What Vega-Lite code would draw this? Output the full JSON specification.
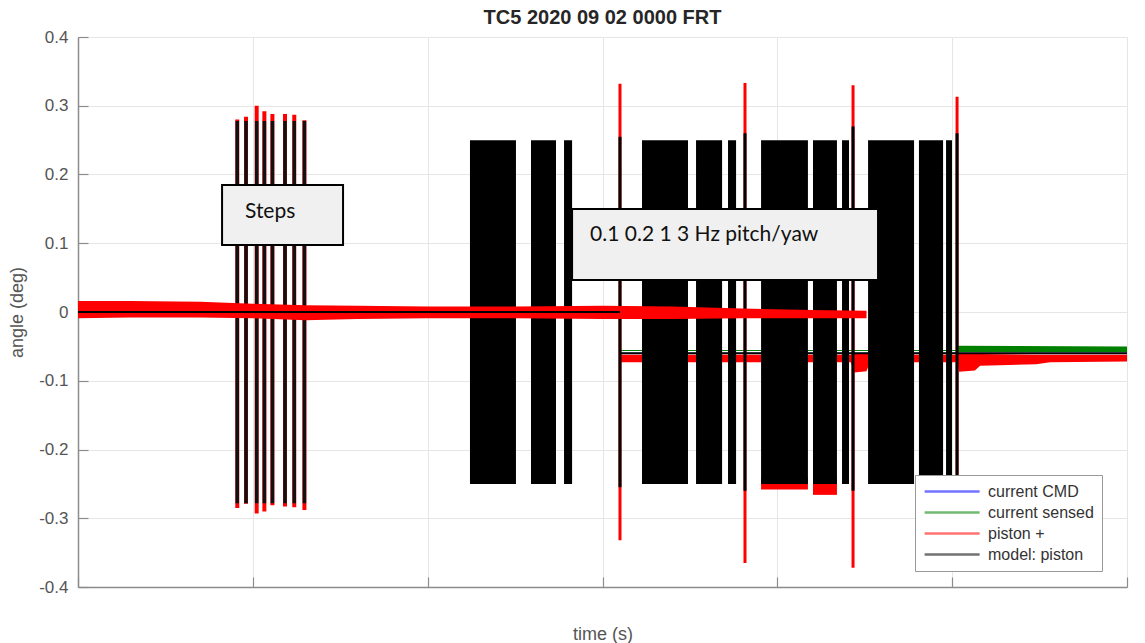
{
  "$schema": "https://vega.github.io/schema/vega-lite/v6.json",
  "width": 1049,
  "height": 550,
  "autosize": {"type": "none"},
  "padding": {"left": 78, "top": 37, "right": 18, "bottom": 56},
  "background": "white",
  "title": {"text": "TC5 2020 09 02 0000 FRT", "anchor": "middle", "fontSize": 20, "font": "Liberation Sans", "fontWeight": "bold", "color": "#262626", "offset": 0},
  "config": {
    "view": {"stroke": "#d9d9d9", "strokeWidth": 1}
  },
  "datasets": {
    "lines": [
      {"series": "current CMD", "seg": "a", "t": 0, "v": 0},
      {"series": "current CMD", "seg": "a", "t": 3100, "v": 0},
      {"series": "current CMD", "seg": "b", "t": 3100, "v": -0.06},
      {"series": "current CMD", "seg": "b", "t": 6000, "v": -0.06},
      {"series": "current sensed", "seg": "a", "t": 0, "v": 0.001},
      {"series": "current sensed", "seg": "a", "t": 3100, "v": 0.001},
      {"series": "current sensed", "seg": "b", "t": 3100, "v": -0.056},
      {"series": "current sensed", "seg": "b", "t": 6000, "v": -0.056}
    ],
    "model": [
      {"series": "model: piston", "seg": "a", "t": 0, "v": 0},
      {"series": "model: piston", "seg": "a", "t": 3100, "v": 0},
      {"series": "model: piston", "seg": "b", "t": 3100, "v": -0.06},
      {"series": "model: piston", "seg": "b", "t": 6000, "v": -0.06}
    ],
    "zeroBand": [
      {"t": 0, "lo": -0.009, "hi": 0.016},
      {"t": 300, "lo": -0.008, "hi": 0.016},
      {"t": 700, "lo": -0.008, "hi": 0.015},
      {"t": 1000, "lo": -0.009, "hi": 0.012},
      {"t": 1300, "lo": -0.012, "hi": 0.01},
      {"t": 1600, "lo": -0.01, "hi": 0.009},
      {"t": 2000, "lo": -0.009, "hi": 0.008},
      {"t": 2500, "lo": -0.009, "hi": 0.008},
      {"t": 3000, "lo": -0.01, "hi": 0.009},
      {"t": 3400, "lo": -0.01, "hi": 0.008},
      {"t": 3800, "lo": -0.009, "hi": 0.005},
      {"t": 4200, "lo": -0.009, "hi": 0.003},
      {"t": 4510, "lo": -0.009, "hi": 0.002}
    ],
    "lowBand": [
      {"t": 3100, "lo": -0.073, "hi": -0.062},
      {"t": 4420, "lo": -0.073, "hi": -0.062},
      {"t": 4440, "lo": -0.088, "hi": -0.06},
      {"t": 4510, "lo": -0.086, "hi": -0.06},
      {"t": 4530, "lo": -0.073, "hi": -0.062},
      {"t": 5030, "lo": -0.073, "hi": -0.062},
      {"t": 5040, "lo": -0.087, "hi": -0.06},
      {"t": 5130, "lo": -0.085, "hi": -0.06},
      {"t": 5160, "lo": -0.078, "hi": -0.061},
      {"t": 5480, "lo": -0.076, "hi": -0.062},
      {"t": 5560, "lo": -0.073, "hi": -0.062},
      {"t": 6000, "lo": -0.072, "hi": -0.062}
    ],
    "greenBand": [
      {"t": 5030, "lo": -0.058, "hi": -0.049},
      {"t": 6000, "lo": -0.058, "hi": -0.05}
    ],
    "blocks": [
      {"t": 2242, "t2": 2505, "lo": -0.25, "hi": 0.25},
      {"t": 2591, "t2": 2734, "lo": -0.25, "hi": 0.25},
      {"t": 2780, "t2": 2826, "lo": -0.25, "hi": 0.25},
      {"t": 3226, "t2": 3489, "lo": -0.25, "hi": 0.25},
      {"t": 3535, "t2": 3684, "lo": -0.25, "hi": 0.25},
      {"t": 3718, "t2": 3764, "lo": -0.25, "hi": 0.25},
      {"t": 3907, "t2": 4175, "lo": -0.25, "hi": 0.25},
      {"t": 4204, "t2": 4341, "lo": -0.25, "hi": 0.25},
      {"t": 4370, "t2": 4410, "lo": -0.25, "hi": 0.25},
      {"t": 4519, "t2": 4782, "lo": -0.25, "hi": 0.25},
      {"t": 4810, "t2": 4948, "lo": -0.25, "hi": 0.25},
      {"t": 4965, "t2": 4999, "lo": -0.25, "hi": 0.25}
    ],
    "redEdges": [
      {"t": 3907, "t2": 4175, "lo": -0.258, "hi": -0.24},
      {"t": 4204, "t2": 4341, "lo": -0.266, "hi": -0.24}
    ],
    "steps": [
      {"t": 911, "lo": -0.278, "hi": 0.278, "rlo": -0.285, "rhi": 0.28},
      {"t": 961, "lo": -0.278, "hi": 0.278, "rlo": -0.279, "rhi": 0.284},
      {"t": 1022, "lo": -0.278, "hi": 0.278, "rlo": -0.293, "rhi": 0.3},
      {"t": 1066, "lo": -0.278, "hi": 0.278, "rlo": -0.29, "rhi": 0.292},
      {"t": 1112, "lo": -0.278, "hi": 0.278, "rlo": -0.281, "rhi": 0.288},
      {"t": 1184, "lo": -0.278, "hi": 0.278, "rlo": -0.283, "rhi": 0.288},
      {"t": 1237, "lo": -0.278, "hi": 0.278, "rlo": -0.284, "rhi": 0.287},
      {"t": 1295, "lo": -0.278, "hi": 0.278, "rlo": -0.288, "rhi": 0.279}
    ],
    "spikes": [
      {"t": 3100, "lo": -0.255, "hi": 0.255, "rlo": -0.332, "rhi": 0.332},
      {"t": 3815, "lo": -0.26, "hi": 0.26, "rlo": -0.365, "rhi": 0.333},
      {"t": 4433, "lo": -0.26, "hi": 0.27, "rlo": -0.372, "rhi": 0.33},
      {"t": 5028, "lo": -0.25, "hi": 0.26, "rlo": -0.27, "rhi": 0.313}
    ],
    "boxes": [
      {"t": 824, "t2": 1516, "lo": 0.0975, "hi": 0.1847},
      {"t": 2826, "t2": 4576, "lo": 0.0465, "hi": 0.1498}
    ],
    "notes": [
      {"t": 955, "v": 0.1455, "text": "Steps"},
      {"t": 2929, "v": 0.112, "text": "0.1 0.2 1 3 Hz pitch/yaw"}
    ]
  },
  "layer": [
    {
      "data": {"name": "lines"},
      "mark": {"type": "line", "strokeWidth": 1},
      "encoding": {
        "x": {"field": "t", "type": "quantitative", "title": "time (s)", "scale": {"domain": [0, 6000], "nice": false, "zero": false},
          "axis": {"values": [0, 1000, 2000, 3000, 4000, 5000, 6000], "labels": false, "grid": true, "gridColor": "#e6e6e6", "domainColor": "#8c8c8c", "domainWidth": 1.5, "tickColor": "#8c8c8c", "tickSize": -10, "tickWidth": 1.2, "titleFont": "Liberation Sans", "titleFontSize": 18, "titleFontWeight": "normal", "titleColor": "#555555", "titleY": 52, "titleBaseline": "alphabetic"}},
        "y": {"field": "v", "type": "quantitative", "title": "angle (deg)", "scale": {"domain": [-0.4, 0.4], "nice": false, "zero": false},
          "axis": {"values": [-0.4, -0.3, -0.2, -0.1, 0, 0.1, 0.2, 0.3, 0.4], "labelExpr": "datum.value < 0 ? '-' + format(-datum.value, '.1~f') : format(datum.value, '.1~f')", "grid": true, "gridColor": "#e6e6e6", "domainColor": "#8c8c8c", "domainWidth": 1.5, "tickColor": "#8c8c8c", "tickSize": -10, "tickWidth": 1.2, "labelPadding": 20, "labelFont": "Liberation Sans", "labelFontSize": 17, "labelColor": "#555555", "titleFont": "Liberation Sans", "titleFontSize": 18, "titleFontWeight": "normal", "titleColor": "#555555", "titleX": -52, "titleY": 275, "titleAngle": 270, "titleBaseline": "bottom"}},
        "detail": {"field": "seg"},
        "color": {"field": "series", "type": "nominal",
          "scale": {"domain": ["current CMD", "current sensed", "piston +", "model: piston"], "range": ["#0000ff", "#008000", "#ff0000", "#000000"]},
          "legend": {"orient": "none", "legendX": 837, "legendY": 438, "title": null, "symbolType": "M-1,0H7", "symbolSize": 189, "symbolStrokeWidth": 2.5, "symbolOpacity": 0.55, "labelFontSize": 16, "labelFont": "Liberation Sans", "labelColor": "#333333", "labelOffset": 48, "rowPadding": 4, "padding": 8, "fillColor": "white", "strokeColor": "#999999", "cornerRadius": 0}}
      }
    },
    {
      "data": {"name": "greenBand"},
      "mark": {"type": "area", "color": "#008000"},
      "encoding": {
        "x": {"field": "t", "type": "quantitative", "title": "time (s)", "scale": {"domain": [0, 6000]}},
        "y": {"field": "lo", "type": "quantitative", "title": "angle (deg)", "scale": {"domain": [-0.4, 0.4]}},
        "y2": {"field": "hi"}
      }
    },
    {
      "data": {"name": "lowBand"},
      "mark": {"type": "area", "color": "#ff0000"},
      "encoding": {
        "x": {"field": "t", "type": "quantitative", "title": "time (s)", "scale": {"domain": [0, 6000]}},
        "y": {"field": "lo", "type": "quantitative", "title": "angle (deg)", "scale": {"domain": [-0.4, 0.4]}},
        "y2": {"field": "hi"}
      }
    },
    {
      "data": {"name": "redEdges"},
      "mark": {"type": "rect", "color": "#ff0000"},
      "encoding": {
        "x": {"field": "t", "type": "quantitative", "title": "time (s)", "scale": {"domain": [0, 6000]}},
        "x2": {"field": "t2"},
        "y": {"field": "lo", "type": "quantitative", "title": "angle (deg)", "scale": {"domain": [-0.4, 0.4]}},
        "y2": {"field": "hi"}
      }
    },
    {
      "data": {"name": "steps"},
      "mark": {"type": "rule", "color": "#ff0000", "strokeWidth": 4},
      "encoding": {
        "x": {"field": "t", "type": "quantitative", "title": "time (s)", "scale": {"domain": [0, 6000]}},
        "y": {"field": "rlo", "type": "quantitative", "title": "angle (deg)", "scale": {"domain": [-0.4, 0.4]}},
        "y2": {"field": "rhi"}
      }
    },
    {
      "data": {"name": "spikes"},
      "mark": {"type": "rule", "color": "#ff0000", "strokeWidth": 3},
      "encoding": {
        "x": {"field": "t", "type": "quantitative", "title": "time (s)", "scale": {"domain": [0, 6000]}},
        "y": {"field": "rlo", "type": "quantitative", "title": "angle (deg)", "scale": {"domain": [-0.4, 0.4]}},
        "y2": {"field": "rhi"}
      }
    },
    {
      "data": {"name": "blocks"},
      "mark": {"type": "rect", "color": "#000000"},
      "encoding": {
        "x": {"field": "t", "type": "quantitative", "title": "time (s)", "scale": {"domain": [0, 6000]}},
        "x2": {"field": "t2"},
        "y": {"field": "lo", "type": "quantitative", "title": "angle (deg)", "scale": {"domain": [-0.4, 0.4]}},
        "y2": {"field": "hi"}
      }
    },
    {
      "data": {"name": "steps"},
      "mark": {"type": "rule", "color": "#111111", "strokeWidth": 3.5},
      "encoding": {
        "x": {"field": "t", "type": "quantitative", "title": "time (s)", "scale": {"domain": [0, 6000]}},
        "y": {"field": "lo", "type": "quantitative", "title": "angle (deg)", "scale": {"domain": [-0.4, 0.4]}},
        "y2": {"field": "hi"}
      }
    },
    {
      "data": {"name": "spikes"},
      "mark": {"type": "rule", "color": "#000000", "strokeWidth": 3},
      "encoding": {
        "x": {"field": "t", "type": "quantitative", "title": "time (s)", "scale": {"domain": [0, 6000]}},
        "y": {"field": "lo", "type": "quantitative", "title": "angle (deg)", "scale": {"domain": [-0.4, 0.4]}},
        "y2": {"field": "hi"}
      }
    },
    {
      "data": {"name": "zeroBand"},
      "mark": {"type": "area", "color": "#ff0000"},
      "encoding": {
        "x": {"field": "t", "type": "quantitative", "title": "time (s)", "scale": {"domain": [0, 6000]}},
        "y": {"field": "lo", "type": "quantitative", "title": "angle (deg)", "scale": {"domain": [-0.4, 0.4]}},
        "y2": {"field": "hi"}
      }
    },
    {
      "data": {"name": "model"},
      "mark": {"type": "line", "strokeWidth": 2},
      "encoding": {
        "x": {"field": "t", "type": "quantitative", "title": "time (s)", "scale": {"domain": [0, 6000]}},
        "y": {"field": "v", "type": "quantitative", "title": "angle (deg)", "scale": {"domain": [-0.4, 0.4]}},
        "detail": {"field": "seg"},
        "color": {"field": "series", "type": "nominal", "scale": {"domain": ["current CMD", "current sensed", "piston +", "model: piston"], "range": ["#0000ff", "#008000", "#ff0000", "#000000"]}}
      }
    },
    {
      "data": {"name": "boxes"},
      "mark": {"type": "rect", "fill": "#f0f0f0", "stroke": "#000000", "strokeWidth": 2},
      "encoding": {
        "x": {"field": "t", "type": "quantitative", "title": "time (s)", "scale": {"domain": [0, 6000]}},
        "x2": {"field": "t2"},
        "y": {"field": "lo", "type": "quantitative", "title": "angle (deg)", "scale": {"domain": [-0.4, 0.4]}},
        "y2": {"field": "hi"}
      }
    },
    {
      "data": {"name": "notes"},
      "mark": {"type": "text", "font": "Lato", "fontSize": 21, "align": "left", "baseline": "middle", "color": "#111111"},
      "encoding": {
        "x": {"field": "t", "type": "quantitative", "title": "time (s)", "scale": {"domain": [0, 6000]}},
        "y": {"field": "v", "type": "quantitative", "title": "angle (deg)", "scale": {"domain": [-0.4, 0.4]}},
        "text": {"field": "text"}
      }
    }
  ]
}
